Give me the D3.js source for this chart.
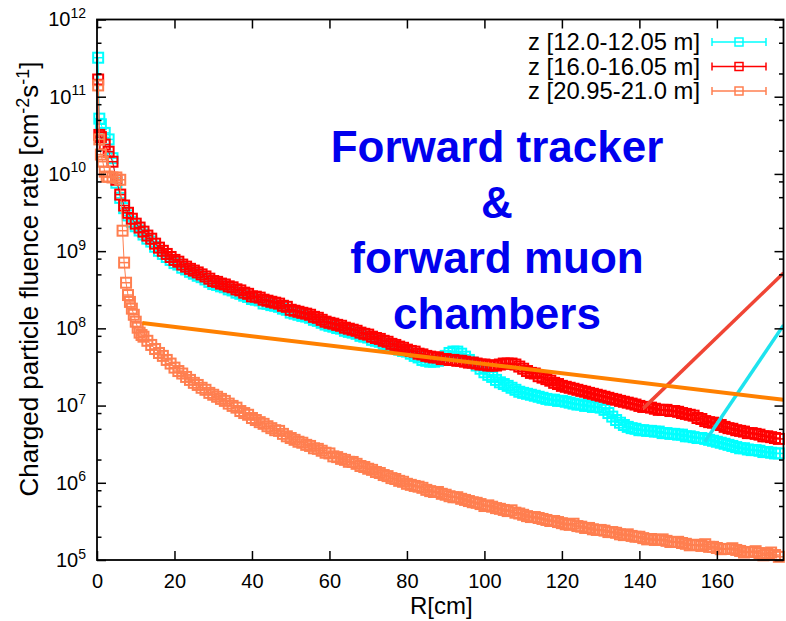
<!DOCTYPE html>
<html>
<head>
<meta charset="utf-8">
<script src="https://cdn.jsdelivr.net/npm/d3@7"></script>
<style>
  body { margin: 0; background: #fff; }
  svg { display: block; }
  text { font-family: "Liberation Sans", Arial, sans-serif; fill: #000; }
</style>
</head>
<body>
<svg id="chart" width="786" height="621"></svg>
<script>
// radial bins (cm), 1 cm wide, shared by the three z slices
const binR = d3.range(1, 177);

// points closest to the beam pipe, [R cm, rate]
const cyanCore = [[0.3, 3.2e11], [0.6, 5.2e10]];
const redCore = [[0.3, 1.67e11], [0.6, 3.2e10]];
const coralCore = [[0.3, 1.4e11], [0.6, 2.8e10], [1.5, 1.44e10], [2.5, 9.2e9],
  [6.6, 1.84e9], [7.5, 3.9e8], [8.5, 2.2e8], [9.5, 1.5e8], [10.5, 1.02e8], [11.5, 8.2e7]];

// z [12.0-12.05 m], R = 1..176
const cyanRate = [
  4.4e10, 3.4e10, 2.8e10, 1.6e10, 7.7e9, 4.9e9, 3.6e9, 2.9e9, 2.4e9, 2.1e9,
  1.85e9, 1.64e9, 1.45e9, 1.33e9, 1.14e9, 1.01e9, 9.2e8, 8.4e8, 7.7e8, 7.0e8,
  6.7e8, 6.1e8, 5.8e8, 5.4e8, 5.1e8, 4.8e8, 4.6e8, 4.3e8, 4.0e8, 3.75e8,
  3.65e8, 3.5e8, 3.4e8, 3.2e8, 3.1e8, 2.9e8, 2.8e8, 2.65e8, 2.55e8, 2.4e8,
  2.35e8, 2.3e8, 2.1e8, 2.08e8, 2.0e8, 1.96e8, 1.9e8, 1.8e8, 1.74e8, 1.6e8,
  1.55e8, 1.5e8, 1.45e8, 1.42e8, 1.37e8, 1.29e8, 1.25e8, 1.18e8, 1.12e8, 1.08e8,
  1.05e8, 1.01e8, 9.9e7, 9.3e7, 9.0e7, 8.8e7, 8.5e7, 8.0e7, 7.8e7, 7.6e7,
  7.1e7, 6.9e7, 6.7e7, 6.3e7, 6.1e7, 5.8e7, 5.6e7, 5.3e7, 5.1e7, 5.0e7,
  4.7e7, 4.4e7, 4.2e7, 3.9e7, 3.8e7, 3.7e7, 3.7e7, 3.8e7, 4.0e7, 4.4e7,
  4.8e7, 5.0e7, 5.0e7, 4.7e7, 4.3e7, 3.9e7, 3.6e7, 3.3e7, 3.0e7, 2.7e7,
  2.5e7, 2.35e7, 2.15e7, 2.0e7, 1.9e7, 1.8e7, 1.7e7, 1.6e7, 1.51e7, 1.46e7,
  1.42e7, 1.38e7, 1.34e7, 1.3e7, 1.26e7, 1.22e7, 1.19e7, 1.19e7, 1.15e7, 1.15e7,
  1.12e7, 1.09e7, 1.06e7, 1.03e7, 1.03e7, 9.9e6, 9.9e6, 9.6e6, 9.6e6, 9.4e6,
  8.8e6, 8.0e6, 7.2e6, 6.5e6, 6.0e6, 5.6e6, 5.3e6, 5.1e6, 5.0e6, 4.8e6,
  4.8e6, 4.7e6, 4.7e6, 4.6e6, 4.6e6, 4.4e6, 4.4e6, 4.3e6, 4.3e6, 4.2e6,
  4.2e6, 4.0e6, 4.0e6, 3.9e6, 3.8e6, 3.8e6, 3.7e6, 3.6e6, 3.5e6, 3.4e6,
  3.3e6, 3.2e6, 3.1e6, 3.0e6, 2.9e6, 2.8e6, 2.8e6, 2.7e6, 2.65e6, 2.65e6,
  2.6e6, 2.5e6, 2.5e6, 2.45e6, 2.4e6, 2.4e6
];

// z [16.0-16.05 m], R = 1..176
const redRate = [
  3.0e10, 2.4e10, 1.94e10, 1.44e10, 8.4e9, 5.4e9, 3.9e9, 3.14e9, 2.63e9, 2.27e9,
  2.02e9, 1.79e9, 1.59e9, 1.45e9, 1.25e9, 1.11e9, 1.01e9, 9.2e8, 8.4e8, 7.7e8,
  7.3e8, 6.7e8, 6.3e8, 5.9e8, 5.6e8, 5.3e8, 5.0e8, 4.7e8, 4.4e8, 4.1e8,
  4.0e8, 3.8e8, 3.7e8, 3.5e8, 3.4e8, 3.2e8, 3.1e8, 2.9e8, 2.8e8, 2.6e8,
  2.57e8, 2.5e8, 2.35e8, 2.28e8, 2.21e8, 2.15e8, 2.09e8, 1.96e8, 1.9e8, 1.74e8,
  1.69e8, 1.64e8, 1.59e8, 1.55e8, 1.5e8, 1.41e8, 1.37e8, 1.29e8, 1.22e8, 1.18e8,
  1.15e8, 1.11e8, 1.08e8, 1.02e8, 9.9e7, 9.6e7, 9.3e7, 8.8e7, 8.5e7, 8.3e7,
  7.8e7, 7.5e7, 7.3e7, 6.9e7, 6.7e7, 6.3e7, 6.1e7, 5.8e7, 5.6e7, 5.3e7,
  5.1e7, 5.0e7, 4.7e7, 4.6e7, 4.4e7, 4.3e7, 4.2e7, 4.2e7, 4.0e7, 4.0e7,
  3.9e7, 3.9e7, 3.8e7, 3.8e7, 3.7e7, 3.6e7, 3.6e7, 3.5e7, 3.4e7, 3.4e7,
  3.3e7, 3.3e7, 3.3e7, 3.4e7, 3.5e7, 3.5e7, 3.5e7, 3.4e7, 3.2e7, 3.0e7,
  2.8e7, 2.65e7, 2.6e7, 2.4e7, 2.3e7, 2.2e7, 2.1e7, 1.97e7, 1.9e7, 1.8e7,
  1.75e7, 1.7e7, 1.65e7, 1.6e7, 1.55e7, 1.51e7, 1.46e7, 1.42e7, 1.38e7, 1.34e7,
  1.3e7, 1.26e7, 1.22e7, 1.19e7, 1.15e7, 1.12e7, 1.09e7, 1.06e7, 1.03e7, 9.9e6,
  9.6e6, 9.6e6, 9.4e6, 9.1e6, 8.8e6, 8.8e6, 8.8e6, 8.5e6, 8.5e6, 8.3e6,
  8.0e6, 7.8e6, 7.6e6, 7.4e6, 6.9e6, 6.7e6, 6.3e6, 6.1e6, 6.0e6, 5.8e6,
  5.6e6, 5.3e6, 5.1e6, 5.0e6, 4.8e6, 4.7e6, 4.6e6, 4.4e6, 4.4e6, 4.3e6,
  4.2e6, 4.0e6, 4.0e6, 3.9e6, 3.8e6, 3.7e6
];

// z [20.95-21.0 m], R = 1..176
const coralRate = [
  1.78e10, 1.07e10, 9.2e9, 9.0e9, 9.0e9, 8.4e9, 7.1e8, 2.7e8, 1.8e8, 1.22e8,
  8.8e7, 7.8e7, 6.9e7, 6.1e7, 5.4e7, 4.8e7, 4.4e7, 3.9e7, 3.5e7, 3.1e7,
  2.8e7, 2.6e7, 2.35e7, 2.15e7, 1.97e7, 1.85e7, 1.7e7, 1.6e7, 1.46e7, 1.38e7,
  1.3e7, 1.22e7, 1.15e7, 1.06e7, 9.9e6, 9.4e6, 8.5e6, 8.0e6, 7.6e6, 6.9e6,
  6.5e6, 6.1e6, 5.8e6, 5.4e6, 5.1e6, 4.8e6, 4.7e6, 4.3e6, 4.0e6, 3.8e6,
  3.6e6, 3.4e6, 3.3e6, 3.1e6, 3.0e6, 2.8e6, 2.75e6, 2.6e6, 2.45e6, 2.4e6,
  2.2e6, 2.15e6, 2.04e6, 1.98e6, 1.87e6, 1.86e6, 1.76e6, 1.65e6, 1.6e6, 1.52e6,
  1.47e6, 1.38e6, 1.34e6, 1.26e6, 1.22e6, 1.15e6, 1.12e6, 1.06e6, 1.03e6, 9.7e5,
  9.4e5, 9.1e5, 8.9e5, 8.6e5, 8.1e5, 7.8e5, 7.6e5, 7.6e5, 7.2e5, 7.0e5,
  6.7e5, 6.5e5, 6.5e5, 6.2e5, 6.0e5, 5.8e5, 5.6e5, 5.5e5, 5.3e5, 5.0e5,
  5.1e5, 4.9e5, 4.7e5, 4.6e5, 4.45e5, 4.3e5, 4.4e5, 4.1e5, 4.0e5, 3.85e5,
  3.7e5, 3.6e5, 3.6e5, 3.5e5, 3.4e5, 3.3e5, 3.2e5, 3.2e5, 3.1e5, 3.0e5,
  2.9e5, 2.85e5, 2.95e5, 2.75e5, 2.7e5, 2.6e5, 2.6e5, 2.5e5, 2.45e5, 2.45e5,
  2.4e5, 2.3e5, 2.3e5, 2.25e5, 2.15e5, 2.1e5, 2.15e5, 2.05e5, 2.0e5, 2.0e5,
  1.92e5, 1.85e5, 1.87e5, 1.82e5, 1.82e5, 1.85e5, 1.77e5, 1.71e5, 1.71e5, 1.72e5,
  1.66e5, 1.62e5, 1.55e5, 1.57e5, 1.57e5, 1.52e5, 1.6e5, 1.48e5, 1.48e5, 1.43e5,
  1.38e5, 1.39e5, 1.39e5, 1.42e5, 1.35e5, 1.31e5, 1.25e5, 1.27e5, 1.27e5, 1.3e5,
  1.23e5, 1.15e5, 1.2e5, 1.25e5, 1.16e5, 1.1e5
];

// straight lines drawn over the plot, [R cm, rate]
const orangeLine = [[11.7, 1.17e8], [177.2, 1.19e7]];
const redLine = [[141.0, 9.2e6], [177.2, 5.2e8]];
const cyanLine = [[156.9, 3.4e6], [177.2, 1.1e8]];

const xTicks = [0, 20, 40, 60, 80, 100, 120, 140, 160];
const yMajor = [1e5, 1e6, 1e7, 1e8, 1e9, 1e10, 1e11, 1e12];
const titleLines = ["Forward tracker", "&", "forward muon", "chambers"];

const series = [
  { name: "z [12.0-12.05 m]", color: "#00ffff", core: cyanCore, rate: cyanRate },
  { name: "z [16.0-16.05 m]", color: "#ff0000", core: redCore, rate: redRate },
  { name: "z [20.95-21.0 m]", color: "#ff7f50", core: coralCore, rate: coralRate }
];

const svg = d3.select("#chart");
const W = 786, H = 621;
const pLeft = 97, pRight = 783.5, pTop = 19.5, pBottom = 560;

svg.append("rect").attr("width", W).attr("height", H).attr("fill", "#fff");

const x = d3.scaleLinear().domain([0, 177.2]).range([pLeft, pRight]);
const y = d3.scaleLog().domain([1e5, 1e12]).range([pBottom, pTop]);

svg.append("clipPath").attr("id", "plotclip")
  .append("rect").attr("x", pLeft).attr("y", pTop)
  .attr("width", pRight - pLeft).attr("height", pBottom - pTop);

// data points: thin connecting line + open squares with x error bar
const line = d3.line().x(d => x(d[0])).y(d => y(d[1]));
const half = 5;

series.forEach(s => {
  const pts = s.core.concat(binR.map((r, i) => [r, s.rate[i]]))
    .sort((a, b) => a[0] - b[0]);
  const g = svg.append("g");
  g.append("path")
    .attr("d", line(pts))
    .attr("fill", "none")
    .attr("stroke", s.color)
    .attr("stroke-width", 1);
  const m = g.selectAll("g.pt").data(pts).join("g")
    .attr("transform", d => `translate(${x(d[0])},${y(d[1])})`);
  m.append("rect")
    .attr("x", -half).attr("y", -half)
    .attr("width", 2 * half).attr("height", 2 * half)
    .attr("fill", "none")
    .attr("stroke", s.color)
    .attr("stroke-width", 2);
  m.append("line")
    .attr("x1", -half).attr("x2", half)
    .attr("stroke", s.color)
    .attr("stroke-width", 1.5);
});

// hand drawn guide lines
const guides = svg.append("g").attr("clip-path", "url(#plotclip)");
[[cyanLine, "#1ee3ee"], [redLine, "#f04535"], [orangeLine, "#ff8000"]].forEach(([d, c]) => {
  guides.append("path")
    .attr("d", line(d))
    .attr("fill", "none")
    .attr("stroke", c)
    .attr("stroke-width", c === "#ff8000" ? 4 : 3.5);
});

// axes, ticks pointing inwards and mirrored
const minorY = [];
yMajor.slice(0, -1).forEach(v => [2, 5, 8].forEach(k => minorY.push(v * k)));

svg.append("g")
  .attr("transform", `translate(0,${pBottom})`)
  .call(d3.axisBottom(x).tickValues(xTicks).tickSize(-9).tickPadding(14).tickFormat(d3.format("d")))
  .call(g => g.select(".domain").remove());

svg.append("g")
  .attr("transform", `translate(0,${pTop})`)
  .call(d3.axisTop(x).tickValues(xTicks).tickSize(-9).tickFormat(""))
  .call(g => g.select(".domain").remove());

svg.append("g")
  .attr("transform", `translate(${pLeft},0)`)
  .call(d3.axisLeft(y).tickValues(yMajor).tickSize(-9).tickPadding(11).tickFormat(""))
  .call(g => g.select(".domain").remove())
  .call(g => g.selectAll(".tick text").each(function(d) {
    const t = d3.select(this);
    t.text("10");
    t.append("tspan").attr("dy", "-0.6em").attr("font-size", 14).text(Math.round(Math.log10(d)));
  }));

svg.append("g")
  .attr("transform", `translate(${pLeft},0)`)
  .call(d3.axisLeft(y).tickValues(minorY).tickSize(-4.5).tickFormat(""))
  .call(g => g.select(".domain").remove());

svg.append("g")
  .attr("transform", `translate(${pRight},0)`)
  .call(d3.axisRight(y).tickValues(yMajor).tickSize(-9).tickFormat(""))
  .call(g => g.select(".domain").remove());

svg.append("g")
  .attr("transform", `translate(${pRight},0)`)
  .call(d3.axisRight(y).tickValues(minorY).tickSize(-4.5).tickFormat(""))
  .call(g => g.select(".domain").remove());

svg.selectAll(".tick line").attr("stroke", "#000").attr("stroke-width", 1.5);
svg.selectAll(".tick text").attr("font-size", 20).attr("font-family", "Liberation Sans, Arial, sans-serif").attr("fill", "#000");

svg.append("rect")
  .attr("x", pLeft).attr("y", pTop)
  .attr("width", pRight - pLeft).attr("height", pBottom - pTop)
  .attr("fill", "none").attr("stroke", "#000").attr("stroke-width", 1.8);

// axis titles
svg.append("text")
  .attr("x", (pLeft + pRight) / 2 + 1).attr("y", 614)
  .attr("text-anchor", "middle").attr("font-size", 24)
  .text("R[cm]");

const yl = svg.append("text")
  .attr("transform", "translate(38,279) rotate(-90)")
  .attr("text-anchor", "middle").attr("font-size", 26);
yl.append("tspan").text("Charged particle fluence rate [cm");
yl.append("tspan").attr("dy", -9).attr("font-size", 18).text("-2");
yl.append("tspan").attr("dy", 9).text("s");
yl.append("tspan").attr("dy", -9).attr("font-size", 18).text("-1");
yl.append("tspan").attr("dy", 9).text("]");

// legend
const legY = [42, 66.5, 91];
const leg = svg.append("g");
series.forEach((s, i) => {
  const ly = legY[i];
  leg.append("text")
    .attr("x", 700).attr("y", ly + 8)
    .attr("text-anchor", "end").attr("font-size", 23.8)
    .text(s.name);
  leg.append("line").attr("x1", 712).attr("x2", 766).attr("y1", ly).attr("y2", ly)
    .attr("stroke", s.color).attr("stroke-width", 1.5);
  [712, 766].forEach(cx => leg.append("line")
    .attr("x1", cx).attr("x2", cx).attr("y1", ly - 4).attr("y2", ly + 4)
    .attr("stroke", s.color).attr("stroke-width", 1.5));
  leg.append("rect")
    .attr("x", 739 - 4).attr("y", ly - 4)
    .attr("width", 8).attr("height", 8)
    .attr("fill", "none").attr("stroke", s.color).attr("stroke-width", 1.5);
});

// slide annotation
svg.append("g").selectAll("text").data(titleLines).join("text")
  .attr("x", 497)
  .attr("y", (d, i) => 162 + i * 55.5)
  .attr("text-anchor", "middle")
  .attr("font-family", "Lato, 'Open Sans', sans-serif")
  .attr("font-weight", "bold")
  .attr("font-size", 44)
  .style("fill", "#0000ee")
  .text(d => d);
</script>
</body>
</html>
